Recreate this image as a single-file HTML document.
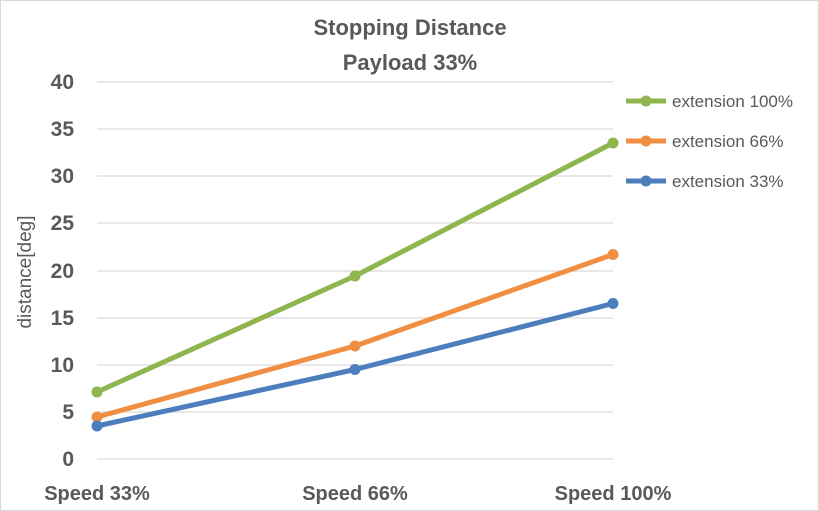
<html><body style="margin:0;background:#fff">
<svg width="819" height="511" xmlns="http://www.w3.org/2000/svg" style="display:block;font-family:'Liberation Sans',sans-serif">
<rect x="0.5" y="0.5" width="818" height="510" fill="#fff" stroke="#d9d9d9"/>
<text x="410" y="35" text-anchor="middle" font-size="22" font-weight="bold" fill="#595959">Stopping Distance</text>
<text x="410" y="70" text-anchor="middle" font-size="22" font-weight="bold" fill="#595959">Payload 33%</text>
<g stroke="#d9d9d9" stroke-width="1.3">
<line x1="97" x2="613" y1="82" y2="82"/><line x1="97" x2="613" y1="129" y2="129"/><line x1="97" x2="613" y1="176" y2="176"/><line x1="97" x2="613" y1="223" y2="223"/><line x1="97" x2="613" y1="271" y2="271"/><line x1="97" x2="613" y1="318" y2="318"/><line x1="97" x2="613" y1="365" y2="365"/><line x1="97" x2="613" y1="412" y2="412"/><line x1="97" x2="613" y1="459" y2="459"/>
</g>
<g font-size="21" font-weight="bold" fill="#595959" text-anchor="end">
<text x="74" y="89">40</text><text x="74" y="136">35</text><text x="74" y="183">30</text><text x="74" y="230">25</text><text x="74" y="278">20</text><text x="74" y="325">15</text><text x="74" y="372">10</text><text x="74" y="419">5</text><text x="74" y="466">0</text>
</g>
<text transform="translate(31,272) rotate(-90)" text-anchor="middle" font-size="19" fill="#595959">distance[deg]</text>
<g font-size="20" font-weight="bold" fill="#595959" text-anchor="middle">
<text x="97" y="500">Speed 33%</text><text x="355" y="500">Speed 66%</text><text x="613" y="500">Speed 100%</text>
</g>
<g stroke-width="5" fill="none" stroke-linejoin="round">
<polyline points="97,392 355,276 613,143" stroke="#8fb54f"/>
<polyline points="97,417 355,346 613,254.5" stroke="#f08f43"/>
<polyline points="97,426 355,369.5 613,303.5" stroke="#4c7dbd"/>
</g>
<g fill="#8fb54f"><circle cx="97" cy="392" r="5.5"/><circle cx="355" cy="276" r="5.5"/><circle cx="613" cy="143" r="5.5"/></g>
<g fill="#f08f43"><circle cx="97" cy="417" r="5.5"/><circle cx="355" cy="346" r="5.5"/><circle cx="613" cy="254.5" r="5.5"/></g>
<g fill="#4c7dbd"><circle cx="97" cy="426" r="5.5"/><circle cx="355" cy="369.5" r="5.5"/><circle cx="613" cy="303.5" r="5.5"/></g>
<g stroke-width="5">
<line x1="626" x2="666" y1="101" y2="101" stroke="#8fb54f"/><circle cx="646" cy="101" r="5.5" fill="#8fb54f"/>
<line x1="626" x2="666" y1="141" y2="141" stroke="#f08f43"/><circle cx="646" cy="141" r="5.5" fill="#f08f43"/>
<line x1="626" x2="666" y1="181" y2="181" stroke="#4c7dbd"/><circle cx="646" cy="181" r="5.5" fill="#4c7dbd"/>
</g>
<g font-size="17" fill="#595959">
<text x="672" y="107">extension 100%</text><text x="672" y="147">extension 66%</text><text x="672" y="187">extension 33%</text>
</g>
</svg>
</body></html>
